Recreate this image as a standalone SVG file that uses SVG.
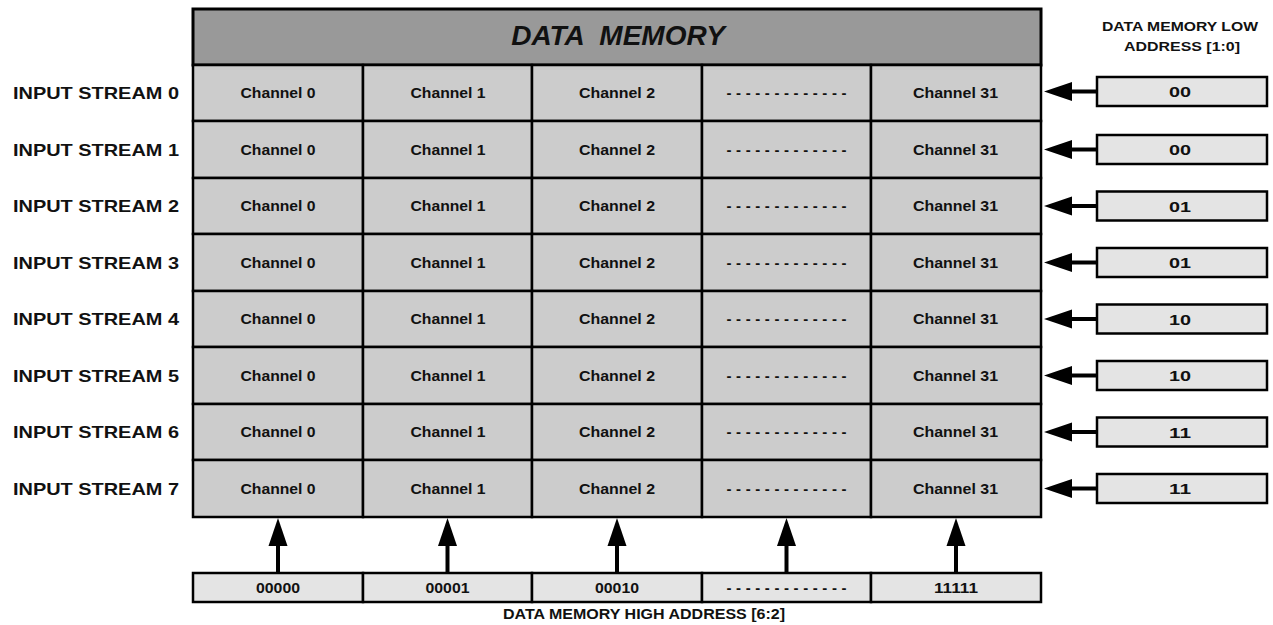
<svg xmlns="http://www.w3.org/2000/svg" width="1273" height="625" viewBox="0 0 1273 625">
<style>
text{font-family:"Liberation Sans",Arial,sans-serif;font-weight:bold;fill:#111}
.hdr{fill:#999999;stroke:#000;stroke-width:3}
.cell{fill:#cccccc;stroke:#000;stroke-width:2.5}
.box{fill:#e4e4e4;stroke:#000;stroke-width:2.5}
.ct{font-size:15px;text-anchor:middle}
.bt{font-size:15px;text-anchor:middle}
.lbl{font-size:16.5px}
.cap{font-size:13px;text-anchor:middle}
.title{font-size:28px;font-style:italic;text-anchor:middle;white-space:pre}
.conn{stroke:#000;stroke-width:4;fill:none}
</style>
<defs>
<marker id="ah" markerUnits="userSpaceOnUse" markerWidth="29" markerHeight="22" viewBox="0 0 29 22" refX="1" refY="11" orient="auto">
<path d="M0,1.5 L28,11 L0,20.5 z" fill="#000"/>
</marker>
</defs>

<g id="header">
<rect class="hdr" x="193" y="9" width="848" height="56"/>
<text class="title" x="618" y="45" xml:space="preserve">DATA  MEMORY</text>
</g>

<g id="low-address-title">
<text class="cap" x="1180" y="31" textLength="156" lengthAdjust="spacingAndGlyphs">DATA MEMORY LOW</text>
<text class="cap" x="1182" y="51" textLength="116" lengthAdjust="spacingAndGlyphs">ADDRESS [1:0]</text>
</g>

<g id="stream-labels">
<text class="lbl" x="13" y="99" textLength="166" lengthAdjust="spacingAndGlyphs">INPUT STREAM 0</text>
<text class="lbl" x="13" y="155.5" textLength="166" lengthAdjust="spacingAndGlyphs">INPUT STREAM 1</text>
<text class="lbl" x="13" y="212" textLength="166" lengthAdjust="spacingAndGlyphs">INPUT STREAM 2</text>
<text class="lbl" x="13" y="268.5" textLength="166" lengthAdjust="spacingAndGlyphs">INPUT STREAM 3</text>
<text class="lbl" x="13" y="325" textLength="166" lengthAdjust="spacingAndGlyphs">INPUT STREAM 4</text>
<text class="lbl" x="13" y="381.5" textLength="166" lengthAdjust="spacingAndGlyphs">INPUT STREAM 5</text>
<text class="lbl" x="13" y="438" textLength="166" lengthAdjust="spacingAndGlyphs">INPUT STREAM 6</text>
<text class="lbl" x="13" y="494.5" textLength="166" lengthAdjust="spacingAndGlyphs">INPUT STREAM 7</text>
</g>

<g id="row0">
<rect class="cell" x="193" y="65" width="170" height="56"/><text class="ct" x="278" y="98" textLength="75" lengthAdjust="spacingAndGlyphs">Channel 0</text>
<rect class="cell" x="363" y="65" width="169" height="56"/><text class="ct" x="448" y="98" textLength="75" lengthAdjust="spacingAndGlyphs">Channel 1</text>
<rect class="cell" x="532" y="65" width="170" height="56"/><text class="ct" x="617" y="98" textLength="76" lengthAdjust="spacingAndGlyphs">Channel 2</text>
<rect class="cell" x="702" y="65" width="169" height="56"/><text class="ct" x="786.5" y="98" textLength="120" lengthAdjust="spacing">-------------</text>
<rect class="cell" x="871" y="65" width="170" height="56"/><text class="ct" x="955.5" y="98" textLength="85" lengthAdjust="spacingAndGlyphs">Channel 31</text>
</g>
<g id="row1">
<rect class="cell" x="193" y="121" width="170" height="57"/><text class="ct" x="278" y="154.5" textLength="75" lengthAdjust="spacingAndGlyphs">Channel 0</text>
<rect class="cell" x="363" y="121" width="169" height="57"/><text class="ct" x="448" y="154.5" textLength="75" lengthAdjust="spacingAndGlyphs">Channel 1</text>
<rect class="cell" x="532" y="121" width="170" height="57"/><text class="ct" x="617" y="154.5" textLength="76" lengthAdjust="spacingAndGlyphs">Channel 2</text>
<rect class="cell" x="702" y="121" width="169" height="57"/><text class="ct" x="786.5" y="154.5" textLength="120" lengthAdjust="spacing">-------------</text>
<rect class="cell" x="871" y="121" width="170" height="57"/><text class="ct" x="955.5" y="154.5" textLength="85" lengthAdjust="spacingAndGlyphs">Channel 31</text>
</g>
<g id="row2">
<rect class="cell" x="193" y="178" width="170" height="56"/><text class="ct" x="278" y="211" textLength="75" lengthAdjust="spacingAndGlyphs">Channel 0</text>
<rect class="cell" x="363" y="178" width="169" height="56"/><text class="ct" x="448" y="211" textLength="75" lengthAdjust="spacingAndGlyphs">Channel 1</text>
<rect class="cell" x="532" y="178" width="170" height="56"/><text class="ct" x="617" y="211" textLength="76" lengthAdjust="spacingAndGlyphs">Channel 2</text>
<rect class="cell" x="702" y="178" width="169" height="56"/><text class="ct" x="786.5" y="211" textLength="120" lengthAdjust="spacing">-------------</text>
<rect class="cell" x="871" y="178" width="170" height="56"/><text class="ct" x="955.5" y="211" textLength="85" lengthAdjust="spacingAndGlyphs">Channel 31</text>
</g>
<g id="row3">
<rect class="cell" x="193" y="234" width="170" height="57"/><text class="ct" x="278" y="267.5" textLength="75" lengthAdjust="spacingAndGlyphs">Channel 0</text>
<rect class="cell" x="363" y="234" width="169" height="57"/><text class="ct" x="448" y="267.5" textLength="75" lengthAdjust="spacingAndGlyphs">Channel 1</text>
<rect class="cell" x="532" y="234" width="170" height="57"/><text class="ct" x="617" y="267.5" textLength="76" lengthAdjust="spacingAndGlyphs">Channel 2</text>
<rect class="cell" x="702" y="234" width="169" height="57"/><text class="ct" x="786.5" y="267.5" textLength="120" lengthAdjust="spacing">-------------</text>
<rect class="cell" x="871" y="234" width="170" height="57"/><text class="ct" x="955.5" y="267.5" textLength="85" lengthAdjust="spacingAndGlyphs">Channel 31</text>
</g>
<g id="row4">
<rect class="cell" x="193" y="291" width="170" height="56"/><text class="ct" x="278" y="324" textLength="75" lengthAdjust="spacingAndGlyphs">Channel 0</text>
<rect class="cell" x="363" y="291" width="169" height="56"/><text class="ct" x="448" y="324" textLength="75" lengthAdjust="spacingAndGlyphs">Channel 1</text>
<rect class="cell" x="532" y="291" width="170" height="56"/><text class="ct" x="617" y="324" textLength="76" lengthAdjust="spacingAndGlyphs">Channel 2</text>
<rect class="cell" x="702" y="291" width="169" height="56"/><text class="ct" x="786.5" y="324" textLength="120" lengthAdjust="spacing">-------------</text>
<rect class="cell" x="871" y="291" width="170" height="56"/><text class="ct" x="955.5" y="324" textLength="85" lengthAdjust="spacingAndGlyphs">Channel 31</text>
</g>
<g id="row5">
<rect class="cell" x="193" y="347" width="170" height="57"/><text class="ct" x="278" y="380.5" textLength="75" lengthAdjust="spacingAndGlyphs">Channel 0</text>
<rect class="cell" x="363" y="347" width="169" height="57"/><text class="ct" x="448" y="380.5" textLength="75" lengthAdjust="spacingAndGlyphs">Channel 1</text>
<rect class="cell" x="532" y="347" width="170" height="57"/><text class="ct" x="617" y="380.5" textLength="76" lengthAdjust="spacingAndGlyphs">Channel 2</text>
<rect class="cell" x="702" y="347" width="169" height="57"/><text class="ct" x="786.5" y="380.5" textLength="120" lengthAdjust="spacing">-------------</text>
<rect class="cell" x="871" y="347" width="170" height="57"/><text class="ct" x="955.5" y="380.5" textLength="85" lengthAdjust="spacingAndGlyphs">Channel 31</text>
</g>
<g id="row6">
<rect class="cell" x="193" y="404" width="170" height="56"/><text class="ct" x="278" y="437" textLength="75" lengthAdjust="spacingAndGlyphs">Channel 0</text>
<rect class="cell" x="363" y="404" width="169" height="56"/><text class="ct" x="448" y="437" textLength="75" lengthAdjust="spacingAndGlyphs">Channel 1</text>
<rect class="cell" x="532" y="404" width="170" height="56"/><text class="ct" x="617" y="437" textLength="76" lengthAdjust="spacingAndGlyphs">Channel 2</text>
<rect class="cell" x="702" y="404" width="169" height="56"/><text class="ct" x="786.5" y="437" textLength="120" lengthAdjust="spacing">-------------</text>
<rect class="cell" x="871" y="404" width="170" height="56"/><text class="ct" x="955.5" y="437" textLength="85" lengthAdjust="spacingAndGlyphs">Channel 31</text>
</g>
<g id="row7">
<rect class="cell" x="193" y="460" width="170" height="57"/><text class="ct" x="278" y="493.5" textLength="75" lengthAdjust="spacingAndGlyphs">Channel 0</text>
<rect class="cell" x="363" y="460" width="169" height="57"/><text class="ct" x="448" y="493.5" textLength="75" lengthAdjust="spacingAndGlyphs">Channel 1</text>
<rect class="cell" x="532" y="460" width="170" height="57"/><text class="ct" x="617" y="493.5" textLength="76" lengthAdjust="spacingAndGlyphs">Channel 2</text>
<rect class="cell" x="702" y="460" width="169" height="57"/><text class="ct" x="786.5" y="493.5" textLength="120" lengthAdjust="spacing">-------------</text>
<rect class="cell" x="871" y="460" width="170" height="57"/><text class="ct" x="955.5" y="493.5" textLength="85" lengthAdjust="spacingAndGlyphs">Channel 31</text>
</g>

<g id="low-address-boxes">
<rect class="box" x="1097" y="77" width="170" height="29"/><text class="bt" x="1180" y="97" textLength="22" lengthAdjust="spacingAndGlyphs">00</text>
<rect class="box" x="1097" y="135" width="170" height="29"/><text class="bt" x="1180" y="155" textLength="22" lengthAdjust="spacingAndGlyphs">00</text>
<rect class="box" x="1097" y="191.5" width="170" height="29"/><text class="bt" x="1180" y="211.5" textLength="22" lengthAdjust="spacingAndGlyphs">01</text>
<rect class="box" x="1097" y="248" width="170" height="29"/><text class="bt" x="1180" y="268" textLength="22" lengthAdjust="spacingAndGlyphs">01</text>
<rect class="box" x="1097" y="304.5" width="170" height="29"/><text class="bt" x="1180" y="324.5" textLength="22" lengthAdjust="spacingAndGlyphs">10</text>
<rect class="box" x="1097" y="361" width="170" height="29"/><text class="bt" x="1180" y="381" textLength="22" lengthAdjust="spacingAndGlyphs">10</text>
<rect class="box" x="1097" y="417.5" width="170" height="29"/><text class="bt" x="1180" y="437.5" textLength="22" lengthAdjust="spacingAndGlyphs">11</text>
<rect class="box" x="1097" y="474" width="170" height="29"/><text class="bt" x="1180" y="494" textLength="22" lengthAdjust="spacingAndGlyphs">11</text>
</g>

<g id="high-address-boxes">
<rect class="box" x="193" y="573" width="170" height="29"/><text class="bt" x="278" y="592.5" textLength="44" lengthAdjust="spacingAndGlyphs">00000</text>
<rect class="box" x="363" y="573" width="169" height="29"/><text class="bt" x="447.5" y="592.5" textLength="44" lengthAdjust="spacingAndGlyphs">00001</text>
<rect class="box" x="532" y="573" width="170" height="29"/><text class="bt" x="617" y="592.5" textLength="44" lengthAdjust="spacingAndGlyphs">00010</text>
<rect class="box" x="702" y="573" width="169" height="29"/><text class="bt" x="786.5" y="592.5" textLength="120" lengthAdjust="spacing">-------------</text>
<rect class="box" x="871" y="573" width="170" height="29"/><text class="bt" x="956" y="592.5" textLength="44" lengthAdjust="spacingAndGlyphs">11111</text>
<text class="bt" x="644" y="619" textLength="282" lengthAdjust="spacingAndGlyphs">DATA MEMORY HIGH ADDRESS [6:2]</text>
</g>

<g id="connectors">
<line class="conn" x1="1097" y1="91.5" x2="1071" y2="91.5" marker-end="url(#ah)"/>
<line class="conn" x1="1097" y1="149.5" x2="1071" y2="149.5" marker-end="url(#ah)"/>
<line class="conn" x1="1097" y1="206" x2="1071" y2="206" marker-end="url(#ah)"/>
<line class="conn" x1="1097" y1="262.5" x2="1071" y2="262.5" marker-end="url(#ah)"/>
<line class="conn" x1="1097" y1="319" x2="1071" y2="319" marker-end="url(#ah)"/>
<line class="conn" x1="1097" y1="375.5" x2="1071" y2="375.5" marker-end="url(#ah)"/>
<line class="conn" x1="1097" y1="432" x2="1071" y2="432" marker-end="url(#ah)"/>
<line class="conn" x1="1097" y1="488.5" x2="1071" y2="488.5" marker-end="url(#ah)"/>
<line class="conn" x1="278" y1="573" x2="278" y2="545" marker-end="url(#ah)"/>
<line class="conn" x1="447.5" y1="573" x2="447.5" y2="545" marker-end="url(#ah)"/>
<line class="conn" x1="617" y1="573" x2="617" y2="545" marker-end="url(#ah)"/>
<line class="conn" x1="786.5" y1="573" x2="786.5" y2="545" marker-end="url(#ah)"/>
<line class="conn" x1="956" y1="573" x2="956" y2="545" marker-end="url(#ah)"/>
</g>
</svg>
